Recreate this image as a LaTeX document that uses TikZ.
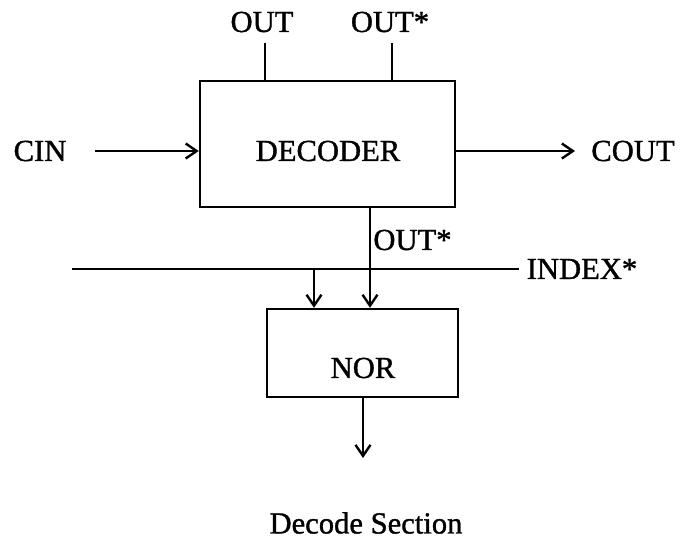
\documentclass[tikz,border=0pt]{standalone}
\usepackage{fontspec}
\setmainfont{Liberation Serif}[FakeBold=1.2]
\usetikzlibrary{arrows.meta}
\begin{document}
\begin{tikzpicture}[x=0.5pt,y=-0.5pt,
  every node/.style={font=\fontsize{15.3}{18}\selectfont, inner sep=0pt},
  box/.style={draw, line width=1.2pt},
  wire/.style={line width=1.2pt},
  arr/.style={wire,-{Straight Barb[length=5.5pt,width=7.5pt,line width=1.2pt]}}]
\useasboundingbox (0,0) rectangle (692,543);
% boxes
\node[box, minimum width=127.5pt, minimum height=63pt] (dec) at (327.5,144) {};
\node[box, minimum width=95.5pt, minimum height=44pt] (nor) at (362.5,353) {};
% labels
\node (dectext) at (328,151) {DECODER};
\node (nortext) at (363,368) {NOR};
\node (cin) at (40,151) {CIN};
\node (cout) at (633,151) {COUT};
\node (out) at (262,22) {OUT};
\node (outs) at (390,22) {OUT*};
\node[anchor=west] (outsmid) at (373,240) {OUT*};
\node (index) at (582,269) {INDEX*};
\node (caption) at (366,523) {Decode Section};
% free ends
\coordinate (cinS) at (95,151);
\coordinate (coutE) at (575,151);
\coordinate (outT) at (265,43);
\coordinate (outsT) at (392,43);
\coordinate (idxL) at (72,269);
\coordinate (idxR) at (519,269);
\coordinate (tap) at (314,269);
\coordinate (dn) at (370,269);
\coordinate (norOut) at (363,458);
% connectors
\draw[arr] (cinS) -- (dec.west |- cinS);
\draw[arr] (dec.east |- coutE) -- (coutE);
\draw[wire] (dec.north -| outT) -- (outT);
\draw[wire] (dec.north -| outsT) -- (outsT);
\draw[wire] (idxL) -- (idxR);
\draw[arr] (tap) -- (nor.north -| tap);
\draw[arr] (dec.south -| dn) -- (nor.north -| dn);
\draw[arr] (nor.south -| norOut) -- (norOut);
\end{tikzpicture}
\end{document}
